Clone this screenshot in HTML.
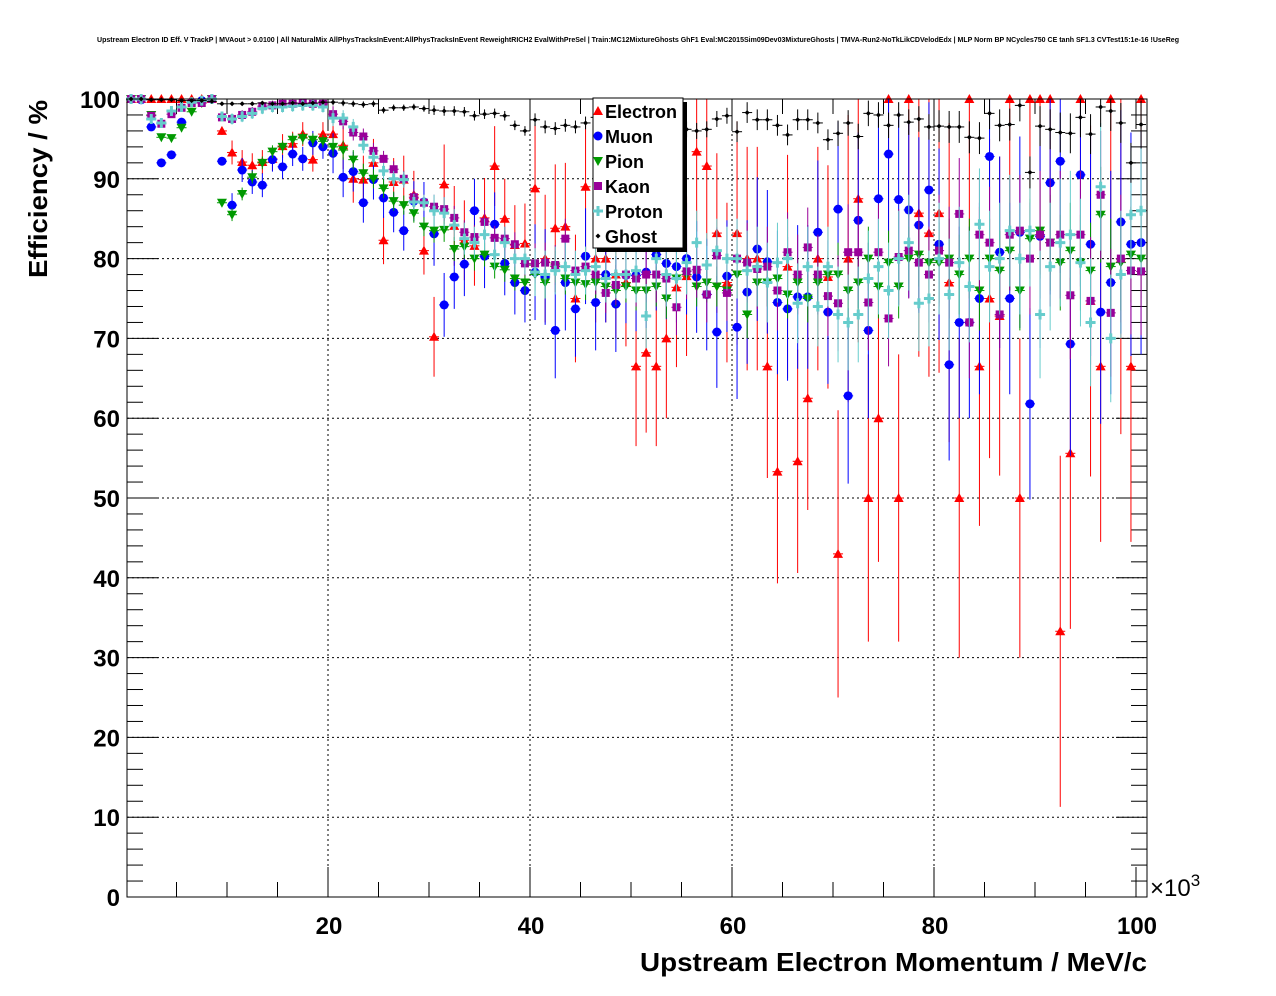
<!DOCTYPE html>
<html><head><meta charset="utf-8"><style>
html,body{margin:0;padding:0;background:#fff;}
svg{display:block;font-family:"Liberation Sans",Arial,sans-serif;}
</style></head><body>
<svg id="chart" width="1276" height="996" viewBox="0 0 1276 996" xmlns="http://www.w3.org/2000/svg">
<rect x="0" y="0" width="1276" height="996" fill="#fff"/>
<text x="638" y="42" font-size="7" font-weight="bold" text-anchor="middle" textLength="1082" lengthAdjust="spacingAndGlyphs">Upstream Electron ID Eff. V TrackP | MVAout &gt; 0.0100 | All NaturalMix AllPhysTracksInEvent:AllPhysTracksInEvent ReweightRICH2 EvalWithPreSel | Train:MC12MixtureGhosts GhF1 Eval:MC2015Sim09Dev03MixtureGhosts | TMVA-Run2-NoTkLikCDVelodEdx | MLP Norm BP NCycles750 CE tanh SF1.3 CVTest15:1e-16 !UseReg</text>
<g id="grid"></g>
<g id="axes"></g>
<g id="series"></g>
<rect x="127" y="99" width="1020" height="798" fill="none" stroke="#000" stroke-width="1"/>
<text transform="translate(47,189) rotate(-90)" font-size="26" font-weight="bold" text-anchor="middle" textLength="178" lengthAdjust="spacingAndGlyphs">Efficiency / %</text>
<text x="640" y="971" font-size="26" font-weight="bold" textLength="507" lengthAdjust="spacingAndGlyphs">Upstream Electron Momentum / MeV/c</text>
<text x="1150" y="896" font-size="24">×10<tspan font-size="17" dy="-10">3</tspan></text>
<g id="legend">
<rect x="597" y="102" width="90" height="150" fill="#000"/>
<rect x="593" y="98" width="90" height="150" fill="#fff" stroke="#000" stroke-width="1"/>
</g>
</svg>
<script>
// ---- data ----
const momentum = [];
for (let k = 0; k <= 100; k++) momentum.push(k + 0.5);
const electronEff = [100,100,100,100,100,100,100,100,100,96,93.3,92.1,91.7,92.1,92.5,94.1,94.4,95.6,92.4,95.6,95.6,94.2,90,89.9,92,82.3,89.6,89.9,88,81,70.2,89.3,84.1,82.3,81.6,85.1,91.6,85,81.7,81.9,88.8,80,83.8,84,75,89,80,80,78,77,66.5,68.2,66.5,70,76.4,77.8,93.4,91.6,83.2,77,83.2,80,80,66.5,53.3,79,54.6,62.5,80,77.7,43,80,87.5,50,60,100,50,100,85.7,83.2,85.7,77,50,100,66.5,75,72.8,100,50,100,100,100,33.3,55.6,100,74.7,66.5,100,80,66.5,100];
const muonEff = [100,99.9,96.5,92,93,97.1,99.6,99.8,100,92.2,86.7,91.1,89.6,89.2,92.4,91.5,93.1,92.5,94.5,94,93.2,90.2,90.9,87,89.9,87.6,85.8,83.5,87.2,87.1,83.1,74.2,77.7,79.3,86,80.3,84.3,79.4,77,76,78.3,77.7,71,77,73.7,80.3,74.5,78,74.3,77.9,77.9,78.3,80.5,79.4,79,80,77.7,75.5,70.8,77.8,71.4,75.8,81.2,79.6,74.5,73.7,75.2,75.2,83.3,73.3,86.2,62.8,84.8,71,87.5,93.1,87.4,86.1,84.2,88.6,81.8,66.7,72,72,75,92.8,80.8,75,83.3,61.8,82.8,89.5,92.2,69.3,90.5,81.8,73.3,77,84.6,81.8,82];
const pionEff = [100,100,98,95.2,95.1,96.4,98.4,99.5,100,87,85.5,88.1,90.2,92,93.4,94,94.9,95.1,94.9,94.7,94,93.6,92.4,90.7,90,88.8,87.2,86.7,85.7,84,83.5,83.6,81.2,81.5,80,80.5,79,78.6,77.5,77,78,77,79,77.5,77,76.8,77,76.5,76,76.5,76,76,76.5,75,77.5,78,76.5,77,76.5,76,78,73,77,77,77.5,75.5,77,75,77,78,78,76,77,80,76.5,79.5,76.5,80,80.5,79.5,79.5,80,78,80,76,80,78.5,81,76,82.5,83.5,82,79.5,81,79.5,78.5,85.5,79,79.5,80.5,80];
const kaonEff = [100,100,97.9,96.9,98.1,98.9,99.5,99.5,100,97.7,97.5,98,98.4,99.1,99.2,99.4,99.4,99.5,99.4,99.4,98.1,97.2,95.8,95.3,93.5,92.5,91.2,90,87.7,87,86.5,86.2,85.1,83.3,82.7,84.6,82.6,82.5,81.8,79.4,79.4,79.5,79.2,82.5,78.5,79,78,75.7,76.7,78,77.5,78,78,77.5,73.9,78.4,78.6,75.5,80.4,75.7,80,79.5,78.7,79,76,80.8,78,81.4,78,75.3,74.4,80.8,80.8,74.5,80.8,72.5,80.2,81,79.5,78,81,79.5,85.6,72,83,82,73,83,83.5,80,83,82,83,75.4,83,74.7,88,73.2,80,78.5,78.4];
const protonEff = [100,100,97.5,97,98.5,99,99.6,99.8,100,97.8,97.5,97.8,98.2,98.8,99,99,99.1,99.2,99.2,99,97.6,97.6,96.5,94.2,92.7,91,90,89.9,87.1,87,86,85.7,84.2,82.5,82,83,80.5,82,80,80,78.3,78,78.5,79,78,78.5,79,77.5,78,78,78.5,72.8,80,78,77.5,79.5,82,79.2,81,80,80,78.5,79,77,79.5,80,74.4,79,74,79,73,72,73,77.5,79,76,80,82,74.4,75,80,75.5,79.5,76.5,84.3,79,80,83.5,80,83.5,73,79,82,83,79.5,72,89,70,78,85.5,86];
const ghostEff = [100,100,99.9,99.9,99.9,99.8,99.8,99.8,99.7,99.4,99.4,99.4,99.4,99.5,99.4,99.4,99.5,99.4,99.5,99.6,99.6,99.5,99.4,99.3,99.4,98.6,98.9,98.9,99,98.8,98.6,98.5,98.5,98.4,97.9,98.1,98.2,97.9,96.7,96,97.4,96.5,96.3,96.7,96.5,97,97.7,97.5,97.6,98,97.5,97.8,98,97.6,97.6,96.2,96,96.2,97.5,97.9,95.9,98.3,97.4,97.4,96.7,95.5,97.4,97.4,97,94.9,95.7,97,95.3,98.2,98,96.7,98,97.1,97.5,96.5,96.6,96.5,96.5,95.2,95.1,98.2,96.7,96.8,99.2,90.8,96.6,96.2,95.8,95.7,97.7,95.6,99,98.5,97,92,96.8];
// typical uncertainty per 10-GeV group
const electronErr = [0.5,1.5,3,5,8,10,14,18,20,22,25];
const muonErr = [0.5,1.5,2.5,4,6,7,9,11,12,14,14];
const pionErr = [0.3,0.8,1.2,1.5,2,2.5,3,4,5,6,6];
const kaonErr = [0.3,0.6,1,1.5,2.5,3.5,5,6,7,8,8];
const protonErr = [0.3,0.7,1,2,3,4,5,6,7,8,8];
const ghostErr = [0.1,0.2,0.4,0.6,0.8,1,1.3,1.6,2,2.5,3];
const yTicks = [0,10,20,30,40,50,60,70,80,90,100];
const xTicks = [20,40,60,80,100];
const legendLabels = ["Electron","Muon","Pion","Kaon","Proton","Ghost"];

// ---- axes ----
const X0 = 126, XS = 10.1, Y0 = 897, YS = 7.98;
const sx = v => X0 + v * XS;
const sy = v => Y0 - v * YS;
const NS = "http://www.w3.org/2000/svg";
function mk(tag, attrs, parent) {
  const e = document.createElementNS(NS, tag);
  for (const k in attrs) e.setAttribute(k, attrs[k]);
  parent.appendChild(e);
  return e;
}
const grid = document.getElementById('grid');
const axes = document.getElementById('axes');
yTicks.forEach(v => {
  const y = sy(v);
  if (v > 0 && v < 100) {
    const g = mk('line', {x1:127, x2:1147, y1:y, y2:y, stroke:'#000', 'stroke-width':1, 'stroke-dasharray':'2,3'}, grid);
    
    
  }
  const t = mk('line', {x1:127, x2:158, y1:y, y2:y, stroke:'#000'}, axes);
  
  
  const t2 = mk('line', {x1:1116, x2:1147, y1:y, y2:y, stroke:'#000'}, axes);
  
  
  const lb = mk('text', {x:120, y:y+9, 'font-size':24, 'font-weight':'bold', 'text-anchor':'end'}, axes);
  lb.textContent = v;
  
  
});
for (let v = 2; v < 100; v += 2) {
  if (v % 10 === 0) continue;
  const y = sy(v);
  const t = mk('line', {x1:127, x2:143, y1:y, y2:y, stroke:'#000'}, axes);
  
  
  const t2 = mk('line', {x1:1131, x2:1147, y1:y, y2:y, stroke:'#000'}, axes);
  
  
}
xTicks.forEach(v => {
  const x = sx(v);
  if (v < 100) {
    const g = mk('line', {x1:x, x2:x, y1:99, y2:897, stroke:'#000', 'stroke-width':1, 'stroke-dasharray':'2,3'}, grid);
    
    
  }
  const lb = mk('text', {x:x+1, y:934, 'font-size':24, 'font-weight':'bold', 'text-anchor':'middle'}, axes);
  lb.textContent = v;
  
  
});
for (let v = 5; v <= 100; v += 5) {
  const x = sx(v);
  const len = v % 20 === 0 ? 30 : 15;
  const t = mk('line', {x1:x, x2:x, y1:897, y2:897-len, stroke:'#000'}, axes);
  
  
  const t2 = mk('line', {x1:x, x2:x, y1:99, y2:99+len, stroke:'#000'}, axes);
  
  
}

// ---- markers ----
function marker(shape, color, x, y, parent) {
  let e;
  if (shape === 'tri-up') e = mk('polygon', {points:`${x-5},${y+4} ${x+5},${y+4} ${x},${y-5}`, fill:color}, parent);
  else if (shape === 'tri-down') e = mk('polygon', {points:`${x-5},${y-4} ${x+5},${y-4} ${x},${y+5}`, fill:color}, parent);
  else if (shape === 'circle') e = mk('circle', {cx:x, cy:y, r:4.5, fill:color}, parent);
  else if (shape === 'square') e = mk('rect', {x:x-4, y:y-4, width:8, height:8, fill:color}, parent);
  else if (shape === 'cross') e = mk('path', {d:`M${x-5},${y-1.5}h3.5v-3.5h3v3.5h3.5v3h-3.5v3.5h-3v-3.5h-3.5z`, fill:color}, parent);
  else e = mk('polygon', {points:`${x-2.5},${y} ${x},${y-2.5} ${x+2.5},${y} ${x},${y+2.5}`, fill:color}, parent);
  return e;
}
const seriesDefs = [
  {name:'electron', vals:electronEff, err:electronErr, color:'#ff0000', shape:'tri-up'},
  {name:'muon', vals:muonEff, err:muonErr, color:'#0000ff', shape:'circle'},
  {name:'pion', vals:pionEff, err:pionErr, color:'#009900', shape:'tri-down'},
  {name:'kaon', vals:kaonEff, err:kaonErr, color:'#990099', shape:'square'},
  {name:'proton', vals:protonEff, err:protonErr, color:'#66cccc', shape:'cross'},
  {name:'ghost', vals:ghostEff, err:ghostErr, color:'#000000', shape:'diamond'}
];
const sg = document.getElementById('series');
seriesDefs.forEach(s => {
  const g = mk('g', {}, sg);
  
  
  s.vals.forEach((v, i) => {
    const x = sx(momentum[i]);
    const e = s.err[Math.floor(i / 10)];
    const hi = Math.min(100, v + e), lo = Math.max(0, v - e);
    const eb = mk('line', {x1:x, x2:x, y1:sy(hi), y2:sy(lo), stroke:s.color, 'stroke-width':1}, g);
    
    
    const hb = mk('line', {x1:x-5, x2:x+5, y1:sy(v), y2:sy(v), stroke:s.color, 'stroke-width':1}, g);
    
    
    const m = marker(s.shape, s.color, x, sy(v), g);
    
    
  });
});

// ---- legend ----
const lg = document.getElementById('legend');
legendLabels.forEach((lab, i) => {
  const y = 111 + i * 25;
  const m = marker(seriesDefs[i].shape, seriesDefs[i].color, 598, y, lg);
  
  
  const t = mk('text', {x:605, y:y+7, 'font-size':18, 'font-weight':'bold'}, lg);
  t.textContent = lab;
  
  
});
</script>
</body></html>
